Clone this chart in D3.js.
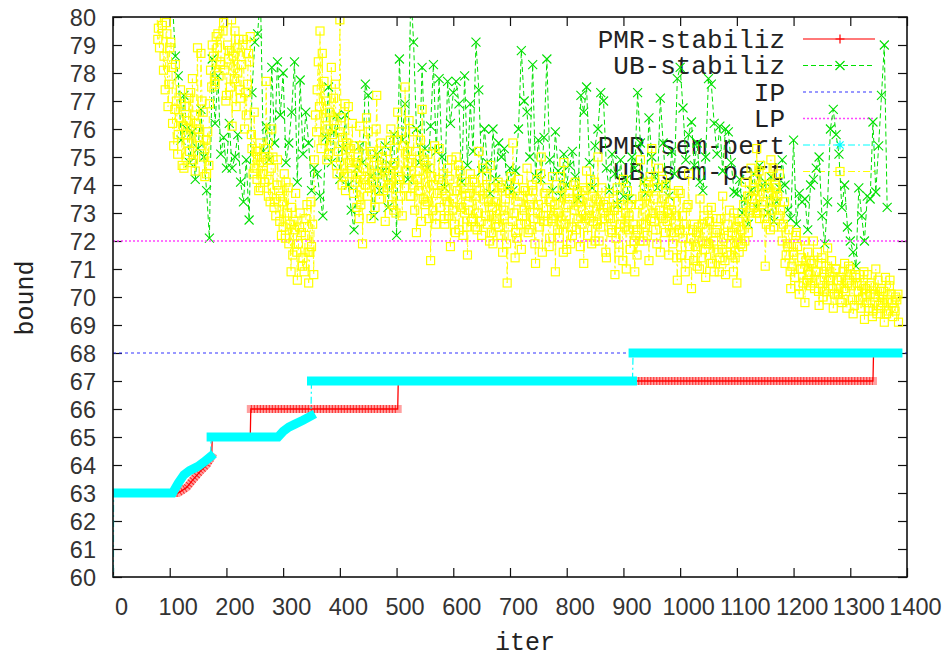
<!DOCTYPE html>
<html><head><meta charset="utf-8">
<script src="https://cdn.jsdelivr.net/npm/d3@7/dist/d3.min.js"></script>
<style>body{margin:0;background:#fff} svg{display:block}</style>
</head><body><svg id="c" width="950" height="658"></svg>
<script>
// ---------------- data ----------------
const xTickValues = [0,100,200,300,400,500,600,700,800,900,1000,1100,1200,1300,1400];
const yTickValues = [60,61,62,63,64,65,66,67,68,69,70,71,72,73,74,75,76,77,78,79,80];
const seriesNames = ["PMR-stabiliz","UB-stabiliz","IP","LP","PMR-sem-pert","UB-sem-pert"];

// PMR-stabiliz (step series, red)
const pmrStabIter = [1,115,130,140,155,165,174,175,242,243,502,503,1340,1341,1384];
const pmrStabVal  = [63,63,63.2,63.45,63.8,64.0,64.3,65,65,66,66,67,67,68,68];

// PMR-sem-pert (step series, cyan)
const pmrSemIter = [0,1,105,115,125,135,150,160,172,173,291,300,310,320,335,349,350,916,917,1384];
const pmrSemVal  = [50,63,63,63.35,63.65,63.8,63.95,64.1,64.3,65,65,65.2,65.35,65.45,65.6,65.75,67,67,68,68];

const ipValue = 68;
const lpValue = 72;

// UB-stabiliz (green), one value every 5 iterations from iteration 105
const ubStabStart = 105, ubStabStep = 5;
const ubStabVals = [
 80.5,78.6,77.9,75.6,77.2,76.0,74.8,75.9,74.2,75.3,
 76.7,75.0,73.8,72.1,78.5,76.2,77.9,75.1,75.7,74.6,
 76.2,74.6,75.0,75.8,74.1,73.4,74.9,72.75,77.3,79.1,
 79.4,80.8,75.2,76.1,74.9,78.2,75.5,78.4,76.5,78.0,
 74.8,75.5,76.6,78.4,74.1,77.75,75.1,76.6,75.5,73.8,
 74.6,74.4,73.6,72.9,75.7,77.5,74.8,75.9,76.5,74.2,
 75.3,76.5,74.0,73.1,72.4,74.6,75.4,74.8,77.6,77.2,
 74.3,72.9,75.1,73.8,74.5,75.4,73.2,74.7,75.8,72.2,
 78.5,75.6,76.9,74.2,81.0,79.1,76.0,74.8,78.2,75.3,
 74.6,76.1,78.3,75.2,77.8,75.0,73.9,77.7,76.2,77.3,
 77.7,76.9,74.1,77.9,74.7,76.9,75.2,79.1,77.4,74.5,
 76.0,74.8,73.7,76.0,74.2,75.5,75.0,75.3,73.9,74.6,
 73.8,74.5,76.0,78.8,77.0,76.6,75.0,78.3,74.3,75.6,
 74.2,75.7,78.5,74.9,73.8,75.9,74.5,73.6,75.1,74.0,
 74.7,75.2,74.3,73.5,77.2,76.6,77.5,74.8,73.9,75.4,
 76.0,77.3,77.0,74.6,73.8,75.1,74.4,73.3,74.9,73.6,
 74.2,73.5,75.0,74.6,77.3,75.5,74.1,73.7,76.4,75.0,
 74.3,73.9,77.1,75.5,74.0,73.6,75.2,74.4,77.8,78.2,
 76.75,74.9,75.8,76.25,74.7,75.5,74.1,73.8,75.0,77.8,
 77.6,76.2,75.1,76.1,74.5,76.0,75.9,74.8,73.75,73.7,
 74.2,73.0,73.5,72.6,73.8,74.4,73.2,74.7,73.9,74.1,
 73.0,74.3,72.7,73.4,73.9,74.9,74.0,73.1,72.8,75.6,
 72.6,73.7,73.4,73.5,72.4,74.0,74.2,74.6,75.0,72.9,
 71.9,73.4,76.0,76.7,75.8,75.1,73.2,74.0,72.5,72.0,
 71.6,71.1,73.9,72.9,72.0,73.6,73.5,76.25,73.75,75.4,
 77.2,79.0,73.2
];

// UB-sem-pert (yellow): three interleaved samplings, each one value every 5 iterations
const ubSemStartA = 75, ubSemStartB = 77, ubSemStartC = 79, ubSemStep = 5;
const ubSemValsA = [
 81.5,79.6,80.4,78.6,79.4,78.9,76.2,78.3,75.8,76.9,
 74.6,76.3,75.2,77.8,74.5,76.0,78.7,75.0,74.4,76.9,
 79.0,77.6,79.4,78.3,79.8,77.2,78.8,76.1,79.5,78.0,
 77.1,79.2,76.5,78.4,75.3,74.6,75.0,73.9,74.8,77.7,
 74.2,76.0,73.4,74.9,73.6,72.5,74.1,71.9,73.2,72.4,
 70.6,73.0,71.4,72.8,70.5,71.8,74.9,77.4,79.5,75.6,
 77.0,75.1,78.2,76.3,74.4,79.9,75.7,73.8,76.8,74.6,
 75.4,73.2,76.1,71.9,74.0,75.9,72.8,74.7,77.2,73.5,
 75.0,72.7,74.3,76.0,73.1,75.6,74.2,72.9,77.5,74.8,
 73.6,75.9,72.3,74.5,76.7,73.3,75.1,71.3,74.0,72.9,
 75.3,73.8,72.6,74.6,71.8,73.5,75.0,72.4,74.1,73.0,
 71.5,74.4,72.8,73.6,75.2,72.2,73.9,72.6,74.7,71.9,
 73.4,72.5,74.0,72.9,70.5,73.7,75.5,72.3,74.2,71.7,
 73.1,74.6,72.4,73.8,71.2,73.3,75.0,72.7,73.9,72.1,
 74.3,70.9,73.0,72.6,74.8,71.7,73.5,72.2,74.1,72.8,
 73.4,71.2,74.5,72.9,73.6,72.0,75.0,72.5,73.3,71.4,
 73.7,72.3,70.8,73.2,72.6,74.2,71.0,72.9,73.5,70.9,
 72.4,74.9,72.0,73.6,71.3,75.3,72.7,73.9,71.6,72.8,
 74.0,71.5,73.1,72.3,70.6,73.7,72.1,71.2,74.4,70.3,
 72.6,71.1,73.5,72.0,70.7,71.9,73.2,70.9,72.4,71.4,
 73.6,70.8,72.2,71.5,73.0,70.5,72.7,71.8,74.1,72.3,
 74.6,73.2,75.3,72.8,74.0,71.1,73.7,74.9,72.5,73.9,
 74.4,72.0,71.2,71.8,70.3,71.5,72.3,70.1,71.0,69.8,
 71.6,70.4,72.0,70.9,69.7,71.4,70.2,71.75,70.6,69.6,
 71.0,70.3,69.8,71.2,70.5,71.0,69.4,70.7,69.9,70.4,
 69.2,70.8,70.1,69.5,71.0,69.7,70.3,69.1,69.9,70.6,
 69.3,70.0,69.1
];
const ubSemValsB = [
 80.6,78.9,79.7,77.4,76.8,79.1,75.4,77.0,76.4,74.7,
 76.8,75.5,77.3,74.9,76.2,75.7,77.0,74.3,75.9,78.1,
 78.6,79.3,77.9,80.3,78.1,79.0,77.5,78.6,76.8,79.2,
 78.3,76.0,77.6,79.3,74.4,75.2,73.8,75.0,74.1,74.9,
 73.4,75.0,72.9,73.8,72.2,74.4,73.0,72.6,71.5,73.7,
 71.9,72.3,70.9,73.3,71.6,72.6,76.5,78.4,75.3,77.7,
 74.9,76.6,75.8,77.6,75.2,76.4,74.3,75.5,74.8,76.2,
 74.1,75.0,73.3,74.6,76.4,73.9,75.1,73.2,74.4,75.5,
 73.8,75.2,74.0,73.3,74.8,76.6,73.6,75.4,74.5,76.3,
 74.8,73.1,74.2,75.6,73.5,74.7,72.8,74.3,75.4,73.7,
 73.2,74.4,73.6,72.9,74.9,72.6,73.8,74.5,72.2,73.6,
 73.1,72.7,74.1,72.4,73.8,74.6,72.9,73.4,72.3,73.9,
 72.8,73.9,71.6,73.5,72.5,74.3,73.0,72.1,73.6,72.9,
 73.8,72.3,73.5,72.8,74.2,72.5,71.6,73.7,72.7,73.4,
 72.9,73.6,72.1,73.9,72.6,73.3,71.9,74.0,72.4,73.5,
 72.6,73.8,72.2,74.2,72.7,73.5,72.0,73.9,72.8,73.2,
 72.8,73.5,72.1,71.6,73.3,72.5,73.8,71.7,72.6,72.2,
 73.3,72.6,73.9,72.2,74.3,73.0,72.4,74.6,72.9,73.5,
 72.7,73.4,71.9,72.9,73.8,71.5,72.6,73.2,71.8,72.4,
 71.8,72.5,71.4,72.9,71.9,72.7,71.2,72.3,71.6,72.8,
 72.1,71.6,73.1,72.3,71.4,72.8,71.9,73.3,72.6,73.0,
 73.5,74.2,73.0,74.7,73.4,72.6,74.3,73.1,74.0,73.6,
 73.1,72.6,71.5,72.4,71.1,70.7,71.8,71.0,70.5,71.3,
 70.8,71.2,70.3,71.6,70.6,70.0,71.1,70.4,71.3,70.1,
 70.6,69.9,70.9,70.2,71.1,70.4,69.7,70.5,70.8,70.0,
 70.3,69.6,70.5,70.0,69.4,70.2,69.8,70.7,69.5,70.1,
 69.6,69.9
];
const ubSemValsC = [
 79.2,80.2,78.1,79.8,77.6,78.2,76.7,75.1,77.4,76.1,
 75.8,77.1,74.8,76.5,78.9,75.4,76.6,75.6,74.7,77.5,
 77.7,78.9,78.4,79.5,77.0,78.5,79.9,77.8,78.9,77.4,
 79.0,77.3,78.7,75.8,76.6,74.2,75.5,74.4,75.3,73.6,
 74.6,73.2,74.0,72.7,73.4,72.1,73.9,70.9,72.7,71.6,
 72.5,71.1,72.2,71.6,73.4,70.8,75.9,76.8,78.7,76.4,
 76.0,75.4,77.1,74.7,75.9,74.0,76.9,74.4,75.3,73.7,
 74.8,72.8,75.4,74.2,73.6,75.2,74.1,76.0,73.8,74.6,
 74.5,73.9,75.6,74.7,73.0,74.3,75.9,73.9,75.2,73.6,
 74.0,75.2,73.8,72.7,74.9,73.4,74.6,73.1,72.6,74.2,
 74.0,72.8,73.4,74.2,73.1,72.3,74.7,73.2,73.9,72.5,
 73.7,74.2,72.5,73.0,72.7,73.5,74.3,72.0,73.2,72.6,
 74.1,72.2,73.1,71.9,73.8,72.7,71.4,73.4,72.6,73.9,
 72.6,73.3,74.0,71.9,73.0,74.4,72.9,73.2,71.8,72.8,
 73.3,72.4,74.3,71.6,72.9,73.7,72.5,73.1,73.8,71.8,
 73.9,72.8,73.1,71.9,74.1,72.6,73.4,73.0,71.6,72.9,
 72.4,73.1,73.9,72.6,71.3,73.0,72.4,73.3,72.0,71.5,
 72.0,73.6,72.6,74.1,72.8,73.5,71.9,73.1,74.2,72.3,
 73.0,72.3,73.7,71.4,72.4,72.9,70.9,73.3,72.1,71.3,
 72.3,71.0,72.6,71.7,73.1,71.2,72.0,72.8,70.9,71.7,
 71.3,72.6,71.9,70.9,72.5,71.6,72.4,72.0,73.6,73.1,
 73.8,73.0,74.5,73.3,72.8,73.9,72.4,74.6,73.4,72.9,
 72.5,73.4,71.9,70.9,71.6,72.2,70.4,71.4,72.0,70.6,
 71.3,70.5,70.9,70.2,71.2,70.7,69.9,70.9,70.3,71.0,
 70.1,70.7,70.3,69.6,70.6,69.9,70.8,70.2,69.6,70.9,
 69.8,70.4,69.3,70.1,70.6,69.6,70.2,69.4,70.4,69.8,
 69.5,70.1
];

// ---------------- drawing ----------------
const svg = d3.select("#c");
const L = 113, R = 907, T = 17, B = 577;
const x = d3.scaleLinear().domain([0,1400]).range([L,R]);
const y = d3.scaleLinear().domain([60,80]).range([B,T]);

const COL = {red:"#ff0000", green:"#00e000", blue:"#3333ff", magenta:"#ff44ff", cyan:"#00ffff", yellow:"#ffff00"};

svg.append("defs").append("clipPath").attr("id","clip")
  .append("rect").attr("x",L).attr("y",T).attr("width",R-L).attr("height",B-T);

const tickFont = "'Liberation Sans', Arial, sans-serif";
const monoFont = "'Liberation Mono', 'Courier New', monospace";

// axes (ticks point inward on all four sides)
const gx = svg.append("g").attr("transform",`translate(0,${B})`)
  .call(d3.axisBottom(x).tickValues(xTickValues).tickSize(-9).tickPadding(20).tickFormat(d3.format("d")));
gx.selectAll("text").attr("dx",8).attr("dy","0.71em").attr("y",21);
const gy = svg.append("g").attr("transform",`translate(${L},0)`)
  .call(d3.axisLeft(y).tickValues(yTickValues).tickSize(-9).tickPadding(17).tickFormat(d3.format("d")));
gy.selectAll("text").attr("dy","0.38em");
svg.append("g").attr("transform",`translate(0,${T})`)
  .call(d3.axisTop(x).tickValues(xTickValues).tickSize(-9).tickFormat(""));
svg.append("g").attr("transform",`translate(${R},0)`)
  .call(d3.axisRight(y).tickValues(yTickValues).tickSize(-9).tickFormat(""));
svg.selectAll(".domain").remove();
svg.selectAll(".tick line").attr("stroke","#111").attr("stroke-width",1.2);
svg.selectAll(".tick text").attr("font-family",tickFont).attr("font-size",23.5).attr("fill","#333");

// axis titles
svg.append("text").attr("x",525).attr("y",650).attr("text-anchor","middle")
  .attr("font-family",monoFont).attr("font-size",25).attr("fill","#222").text("iter");
svg.append("text").attr("transform","translate(33,298) rotate(-90)").attr("text-anchor","middle")
  .attr("font-family",monoFont).attr("font-size",25).attr("fill","#222").text("bound");

// marker helpers
function plusPath(cx,cy,s){return `M${cx-s},${cy}H${cx+s}M${cx},${cy-s}V${cy+s}`;}
function crossPath(cx,cy,s){return `M${cx-s},${cy-s}L${cx+s},${cy+s}M${cx-s},${cy+s}L${cx+s},${cy-s}`;}
function starPath(cx,cy,s){return plusPath(cx,cy,s)+crossPath(cx,cy,s*0.8);}

// legend (under the data, as in the reference)
const leg = svg.append("g");
const legRows = [39,65.5,92,118.5,145,171.5];
const styles = [
  {stroke:COL.red, dash:null, w:1.6, op:0.7, marker:"plus"},
  {stroke:COL.green, dash:"5,3", w:1, op:1, marker:"cross"},
  {stroke:COL.blue, dash:"3,3", w:1.2, op:1, marker:null},
  {stroke:COL.magenta, dash:"2,2", w:1.4, op:1, marker:null},
  {stroke:COL.cyan, dash:"7,3,2,3", w:1.2, op:1, marker:"star"},
  {stroke:COL.yellow, dash:"7,3,2,3", w:1.2, op:1, marker:"square"}
];
seriesNames.forEach((name,i)=>{
  const yy = legRows[i], st = styles[i];
  leg.append("text").attr("x",785).attr("y",yy+8.5).attr("text-anchor","end")
    .attr("font-family",monoFont).attr("font-size",26).attr("fill","#222").text(name);
  leg.append("line").attr("x1",803).attr("x2",875).attr("y1",yy).attr("y2",yy)
    .attr("stroke",st.stroke).attr("stroke-width",st.w).attr("stroke-opacity",st.op)
    .attr("stroke-dasharray",st.dash);
  if(st.marker==="plus") leg.append("path").attr("d",plusPath(840,yy,4.5)).attr("stroke",COL.red).attr("stroke-width",1.2);
  if(st.marker==="cross") leg.append("path").attr("d",crossPath(840,yy,4.5)).attr("stroke",COL.green).attr("stroke-width",1.2);
  if(st.marker==="star") leg.append("path").attr("d",starPath(840,yy,4.5)).attr("stroke",COL.cyan).attr("stroke-width",1.2);
  if(st.marker==="square") leg.append("rect").attr("x",836).attr("y",yy-4).attr("width",8).attr("height",8)
    .attr("fill","none").attr("stroke",COL.yellow).attr("stroke-width",1.2);
});

const plot = svg.append("g").attr("clip-path","url(#clip)");
const line = d3.line().x(d=>x(d[0])).y(d=>y(d[1]));

function toPts(iters, vals){return iters.map((it,i)=>[it, vals[i]]);}
function runs(pts){
  const out=[]; let cur=[pts[0]];
  for(let i=1;i<pts.length;i++){
    if(Math.abs(pts[i][1]-pts[i-1][1])>0.6){out.push(cur); cur=[];}
    cur.push(pts[i]);
  }
  out.push(cur); return out.filter(r=>r.length>1);
}

// 1. PMR-stabiliz (red)
const redPts = toPts(pmrStabIter, pmrStabVal);
runs(redPts).forEach(r=>{
  plot.append("path").attr("d",line(r)).attr("fill","none").attr("stroke","#ffa0a0")
    .attr("stroke-width",8).attr("stroke-linecap","square");
  plot.append("path").attr("d",line(r)).attr("fill","none").attr("stroke","#ff1010")
    .attr("stroke-width",8).attr("stroke-dasharray","1,2").attr("stroke-opacity",0.85);
});
plot.append("path").attr("d",line(redPts)).attr("fill","none").attr("stroke",COL.red).attr("stroke-width",1.3);

// 2. UB-stabiliz (green)
const greenPts = ubStabVals.map((v,i)=>[ubStabStart+i*ubStabStep, v]);
plot.append("path").attr("d",line(greenPts)).attr("fill","none").attr("stroke",COL.green)
  .attr("stroke-width",1).attr("stroke-dasharray","5,3");
plot.append("g").selectAll("path").data(greenPts).join("path")
  .attr("d",d=>crossPath(x(d[0]),y(d[1]),4.5)).attr("stroke",COL.green).attr("stroke-width",1.1);

// 3. IP
plot.append("line").attr("x1",x(0)).attr("x2",x(1400)).attr("y1",y(ipValue)).attr("y2",y(ipValue))
  .attr("stroke",COL.blue).attr("stroke-width",1.2).attr("stroke-dasharray","3,3");
// 4. LP
plot.append("line").attr("x1",x(0)).attr("x2",x(1400)).attr("y1",y(lpValue)).attr("y2",y(lpValue))
  .attr("stroke",COL.magenta).attr("stroke-width",1.4).attr("stroke-dasharray","2,2");

// 5. PMR-sem-pert (cyan)
const cyanPts = toPts(pmrSemIter, pmrSemVal);
plot.append("path").attr("d",line(cyanPts)).attr("fill","none").attr("stroke",COL.cyan)
  .attr("stroke-width",1.2).attr("stroke-dasharray","7,3,2,3");
runs(cyanPts).forEach(r=>{
  plot.append("path").attr("d",line(r)).attr("fill","none").attr("stroke",COL.cyan)
    .attr("stroke-width",9).attr("stroke-linecap","square");
});

// 6. UB-sem-pert (yellow)
const yellowPts = []
  .concat(ubSemValsA.map((v,i)=>[ubSemStartA+i*ubSemStep, v]))
  .concat(ubSemValsB.map((v,i)=>[ubSemStartB+i*ubSemStep, v]))
  .concat(ubSemValsC.map((v,i)=>[ubSemStartC+i*ubSemStep, v]))
  .sort((a,b)=>a[0]-b[0]);
plot.append("path").attr("d",line(yellowPts)).attr("fill","none").attr("stroke",COL.yellow)
  .attr("stroke-width",1).attr("stroke-dasharray","7,3,2,3");
plot.append("g").selectAll("rect").data(yellowPts).join("rect")
  .attr("x",d=>x(d[0])-4).attr("y",d=>y(d[1])-4).attr("width",8).attr("height",8)
  .attr("fill","none").attr("stroke",COL.yellow).attr("stroke-width",1.2);

// frame
svg.append("rect").attr("x",L).attr("y",T).attr("width",R-L).attr("height",B-T)
  .attr("fill","none").attr("stroke","#111").attr("stroke-width",1.6);
</script></body></html>
